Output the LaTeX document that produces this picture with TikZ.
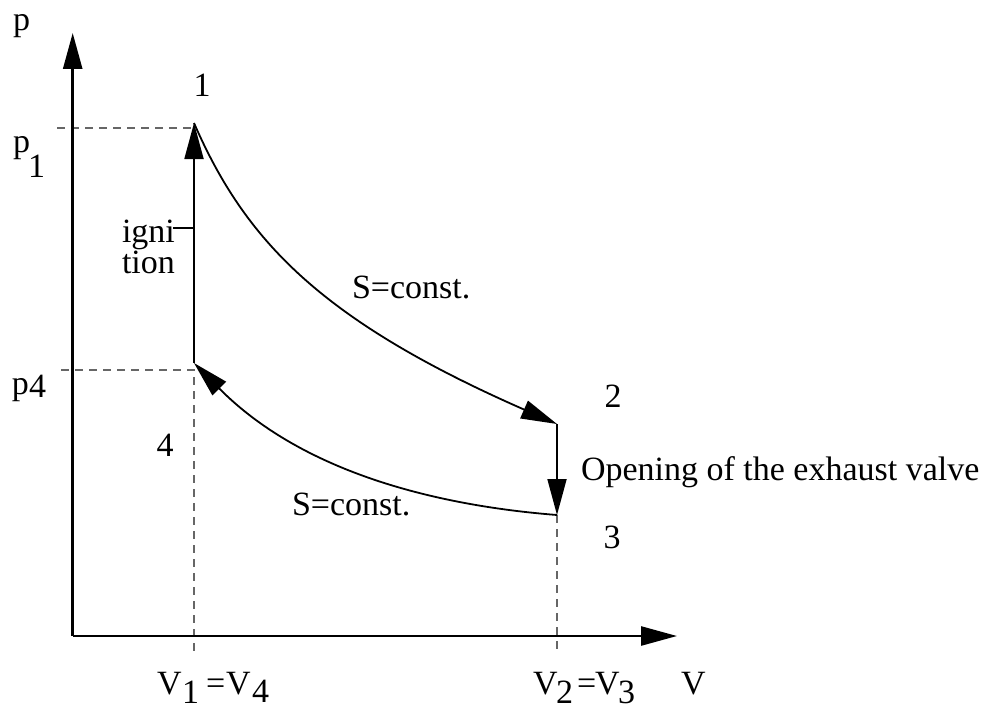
\documentclass[tikz,border=0pt]{standalone}
\usepackage{fontspec}
\setmainfont{Liberation Serif}
\usetikzlibrary{arrows.meta}
\begin{document}
\begin{tikzpicture}[x=1pt,y=-1pt,
  lbl/.style={font=\fontsize{34}{39}\selectfont, inner sep=0pt, outer sep=0pt},
  axisline/.style={line width=2.6pt, -{Triangle[length=36pt,width=19pt]}},
  procline/.style={line width=1.8pt},
  procarrow/.style={line width=1.8pt, -{Triangle[length=36pt,width=19pt]}},
  helpline/.style={line width=1.3pt, gray!80!black, dash pattern=on 8pt off 6pt}]
\useasboundingbox (0,0) rectangle (985,709);
% key points
\coordinate (O) at (72.7,636);
\coordinate (Ytip) at (72.7,33);
\coordinate (Xtip) at (677,636);
\coordinate (P1) at (194,123);
\coordinate (P4) at (194,363);
\coordinate (P2) at (557,424);
\coordinate (P3) at (557,515);
\coordinate (H1) at (57,128);
\coordinate (H1e) at (194,128);
\coordinate (H4) at (61,370);
\coordinate (H4e) at (194,370);
\coordinate (V1b) at (194,652);
\coordinate (V2b) at (557,652);
\coordinate (Tk) at (173,228);
\coordinate (TkE) at (194,228);
% helper lines
\draw[helpline] (H1) -- (H1e);
\draw[helpline] (H4) -- (H4e) -- (V1b);
\draw[helpline] (P3) -- (V2b);
% axes
\draw[axisline] (O) -- (Ytip);
\draw[axisline] (O) -- (Xtip);
% cycle
\draw[procarrow] (P4) -- (P1);
\draw[procarrow] (P1) .. controls (245,240) and (320,320) .. (P2);
\draw[procarrow] (P2) -- (P3);
\draw[procarrow] (P3) .. controls (430,505) and (300,470) .. (P4);
\draw[procline] (Tk) -- (TkE);
% labels
\node[lbl, anchor=base west] (lp) at (13,31) {p};
\node[lbl, anchor=base west] (lp1) at (13,152) {p};
\node[lbl, anchor=base west] (lp1s) at (28,177) {1};
\node[lbl, anchor=base west] (lp4) at (12,394) {p};
\node[lbl, anchor=base west] (lp4s) at (29,397) {4};
\node[lbl] (n1) at (202,85) {1};
\node[lbl] (n4) at (165,445) {4};
\node[lbl] (n2) at (613,396) {2};
\node[lbl] (n3) at (612,537) {3};
\node[lbl, anchor=base west] (ign1) at (122,242) {igni};
\node[lbl, anchor=base west] (ign2) at (122,273) {tion};
\node[lbl, anchor=base west] (s1) at (352,298) {S=const.};
\node[lbl, anchor=base west] (s2) at (292,515) {S=const.};
\node[lbl, anchor=base west] (open) at (581,480) {Opening of the exhaust valve};
% V labels
\node[lbl, anchor=base west] (va) at (157,694) {V};
\node[lbl, anchor=base west] (vas) at (182,703) {1};
\node[lbl, anchor=base west] (veq) at (206,694) {=};
\node[lbl, anchor=base west] (vb) at (226,694) {V};
\node[lbl, anchor=base west] (vbs) at (252,702) {4};
\node[lbl, anchor=base west] (vc) at (533,694) {V};
\node[lbl, anchor=base west] (vcs) at (556,703) {2};
\node[lbl, anchor=base west] (veq2) at (577,694) {=};
\node[lbl, anchor=base west] (vd) at (595,694) {V};
\node[lbl, anchor=base west] (vds) at (618,703) {3};
\node[lbl, anchor=base west] (vv) at (681,694) {V};
\end{tikzpicture}
\end{document}
